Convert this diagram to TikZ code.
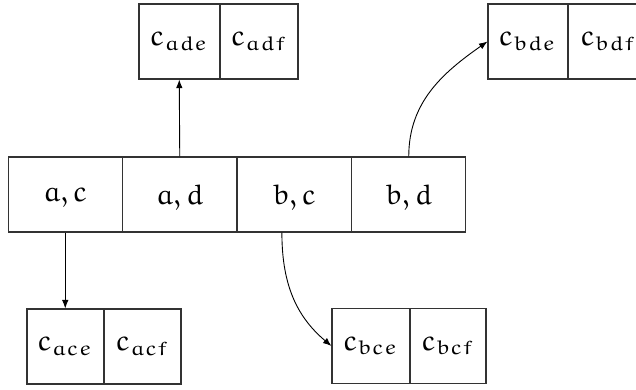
\documentclass[tikz,border=0pt]{standalone}
\newcommand\ltr[1]{\mathrm{#1}}
\IfFileExists{euler.sty}{\usepackage{euler}\def\ltr{}}{}
\usetikzlibrary{arrows.meta,calc}
\newcommand\lbl[1]{\scalebox{2.85}{$#1$}}
\begin{document}
\begin{tikzpicture}[x=1pt,y=-1pt,
  cell/.style={draw=black!80,line width=1.1pt,inner sep=0pt,minimum height=75pt},
  big/.style={cell,minimum width=114pt},
  small/.style={cell,minimum height=75pt},
  arr/.style={line width=0.9pt,-{Latex[length=8.5pt,width=6.5pt]}}]
\useasboundingbox (0,0) rectangle (636,389);
\clip (0,0) rectangle (636,389);
% main row
\node[big] (ac) at (65.25,194.5) {\lbl{\ltr{a}, \ltr{c}}};
\node[big] (ad) at (179.75,194.5) {\lbl{\ltr{a}, \ltr{d}}};
\node[big] (bc) at (294.25,194.5) {\lbl{\ltr{b}, \ltr{c}}};
\node[big] (bd) at (408.75,194.5) {\lbl{\ltr{b}, \ltr{d}}};
% top left
\node[small,minimum width=80.5pt] (ade) at (179.25,41.5) {\lbl{\ltr{c}_{\ltr{ade}}}};
\node[small,minimum width=77.5pt] (adf) at (259.25,41.5) {\lbl{\ltr{c}_{\ltr{adf}}}};
% top right
\node[small,minimum width=79.5pt] (bde) at (527.75,41.5) {\lbl{\ltr{c}_{\ltr{bde}}}};
\node[small,minimum width=80pt] (bdf) at (608.5,41.5) {\lbl{\ltr{c}_{\ltr{bdf}}}};
% bottom left
\node[small,minimum width=76.5pt] (ace) at (65.25,346.5) {\lbl{\ltr{c}_{\ltr{ace}}}};
\node[small,minimum width=76.5pt] (acf) at (142.75,346.5) {\lbl{\ltr{c}_{\ltr{acf}}}};
% bottom right
\node[small,minimum width=77.5pt] (bce) at (370.75,346) {\lbl{\ltr{c}_{\ltr{bce}}}};
\node[small,minimum width=75.5pt] (bcf) at (448.25,346) {\lbl{\ltr{c}_{\ltr{bcf}}}};
% connectors
\draw[arr] (ac.south) -- (ace.north);
\draw[arr] (ad.north) -- (ade.south);
\draw[arr] (bc.252) to[out=-90,in=140] (bce.west);
\draw[arr] (bd.north) to[out=90,in=215] (bde.west);
\end{tikzpicture}
\end{document}
